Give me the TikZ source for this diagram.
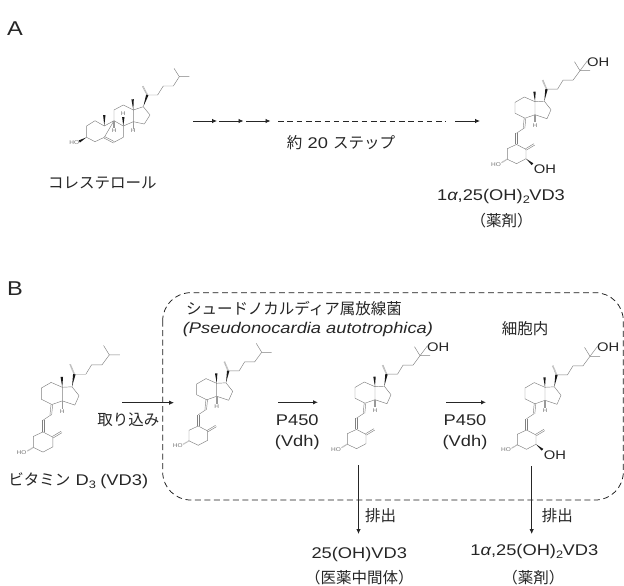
\documentclass[tikz,border=0pt]{standalone}
\usepackage{fontspec}
\usepackage{tikz}
\setmainfont[FakeStretch=1.18]{Liberation Sans}
\newfontfamily\jp{Noto Sans CJK JP}
\usetikzlibrary{arrows.meta, calc}

\newcommand{\jpn}[1]{{\jp #1}}
\newcommand{\doublebond}[2]{\draw[bond] ($(#1)!.8pt!90:(#2)$) -- ($(#2)!.8pt!-90:(#1)$); \draw[bond] ($(#1)!.8pt!-90:(#2)$) -- ($(#2)!.8pt!90:(#1)$);}
\newcommand{\wedgebond}[2]{\fill[black!90] (#1) -- ($(#2)!1.2pt!90:(#1)$) -- ($(#2)!1.2pt!-90:(#1)$) -- cycle;}

\tikzset{
  bond/.style={black!50, line width=.45pt, line join=round},
  hashbond/.style={black!40, line width=1.6pt, dash pattern=on .35pt off .6pt},
  atomsmall/.style={font=\fontsize{5.5}{6}\selectfont, black!55, inner sep=0pt},
  atombig/.style={font=\fontsize{12.5}{14}\selectfont, black!85, inner sep=0pt},
  lbl/.style={font=\fontsize{15.5}{18}\selectfont, black!85, inner sep=0pt},
  head/.style={font=\fontsize{20}{22}\selectfont, black!85, inner sep=0pt},
  flow/.style={-{Latex[length=5pt,width=4.5pt]}, black!85, line width=.8pt},
  flowthick/.style={-{Latex[length=5pt,width=4.5pt]}, black!85, line width=1.2pt},
  cellbox/.style={black!90, line width=.75pt, dash pattern=on 5.8pt off 3.7pt, rounded corners=28pt},
  seco/.pic={
    \draw[bond] (45,-31) -- (39.5,-40) (45,-31) -- (55,-31);
    \draw[bond] (45,-31) -- (38,-21.5) -- (28,-21.5) -- (22.5,-12.5) -- (11.5,-12.5);
    \draw[hashbond] (11.5,-12.5) -- (7.5,-22);
    \wedgebond{9.3,-.5}{11.5,-12.5}
    \draw[bond] (9.3,-.5) -- (16,8) -- (12,17) -- (0,13) -- (0,0) -- (-10.7,-4.7) -- (-20,.7) -- (-20,11.5) -- (-10,16.5) -- (0,13);
    \draw[bond] (0,0) -- (9.3,-.5);
    \wedgebond{0,0}{-.5,-10}
    \draw[hashbond] (0,13) -- (0,20);
    \node[atomsmall] (h) at (0,23.5) {H};
    \doublebond{-10,16.5}{-11,26.5}
    \draw[bond] (-11,26.5) -- (-18.5,31.5);
    \doublebond{-18.5,31.5}{-18.5,42.7}
    \draw[bond] (-18.5,42.7) -- (-9,47.7) -- (-9,57) -- (-18.5,62) -- (-27.7,57.5) -- (-27.7,47) -- cycle;
    \doublebond{-9,47.7}{-.7,42.7}
    \draw[hashbond, line width=1.2pt] (-27.7,57.5) -- (-33.5,61);
    \node[atomsmall] (ho) at (-39,62.7) {HO};
  },
  hydroxyl/.pic={
    \draw[bond] (45,-31) -- (52.5,-41);
    \node[atombig] (oh) at (63.3,-39.7) {OH};
  },
  hydroxylring/.pic={
    \wedgebond{-9,57}{-2.5,62.5}
    \node[atombig] (oh) at (10,67.7) {OH};
  },
  cholest/.pic={
    \draw[bond] (46,-33.3) -- (40.7,-41.7) (46,-33.3) -- (56,-33.3);
    \draw[bond] (46,-33.3) -- (40,-24) -- (30,-24) -- (24.3,-15) -- (14,-15);
    \draw[hashbond] (14,-15) -- (9.3,-24);
    \wedgebond{10,-3.3}{14,-15}
    \draw[bond] (0,0) -- (10,-3.3) -- (16.7,5) -- (11,14) -- (0,11.7) -- cycle;
    \draw[bond] (0,0) -- (-10,-5) -- (-19.3,0) -- (-19.3,10.7) -- (-10,16) -- (0,11.7);
    \draw[bond] (-19.3,10.7) -- (-29,16) -- (-38.3,10.7) -- (-46.7,16) -- (-46.7,27.3) -- (-38.3,31.7) -- (-29,27.3) -- cycle;
    \draw[bond] (-10,16) -- (-10,27.3) -- (-19.3,32.3);
    \doublebond{-19.3,32.3}{-29,27.3}
    \wedgebond{0,0}{-.7,-10.7}
    \wedgebond{-29,16}{-29,5}
    \wedgebond{-46.7,27.3}{-54,31.5}
    \draw[hashbond] (-19.3,10.7) -- (-19.3,17.5);
    \draw[hashbond] (0,11.7) -- (0,18.5);
    \wedgebond{-10,16}{-10,7}
    \node[atomsmall] (ha) at (-19,21) {H};
    \node[atomsmall] (hb) at (-10,4) {H};
    \node[atomsmall] (hc) at (0,21) {H};
    \node[atomsmall] (ho) at (-59,32.3) {HO};
  }
}

\begin{document}
\begin{tikzpicture}[x=1pt, y=-1pt]
  \useasboundingbox (0,0) rectangle (624,586);

  \node[head] (panela) at (15,29) {A};
  \pic (chol) at (133.3,110) {cholest};
  \pic (topmol) at (535,101.7) {seco};
  \pic (topoh) at (535,101.7) {hydroxyl};
  \pic (topring) at (535,101.7) {hydroxylring};

  \coordinate (s0) at (193,121);
  \coordinate (s1) at (217,121);
  \coordinate (s2) at (219,121);
  \coordinate (s3) at (243.5,121);
  \coordinate (s4) at (246,121);
  \coordinate (s5) at (270.5,121);
  \coordinate (s6) at (278,121);
  \coordinate (s7) at (446,121);
  \coordinate (s8) at (455,121);
  \coordinate (s9) at (480,121);
  \draw[flow] (s0) -- (s1);
  \draw[flow] (s2) -- (s3);
  \draw[flow] (s4) -- (s5);
  \draw[black!85, line width=.8pt, dash pattern=on 5.6pt off 3.7pt] (s6) -- (s7);
  \draw[flow] (s8) -- (s9);

  \node[lbl] (steps) at (341,143) {\jpn{約} 20 \jpn{ステップ}};
  \node[lbl] (cholname) at (102.3,183) {\jpn{コレステロール}};
  \node[lbl] (drugtop) at (501,196.7) {1\textit{α},25(OH)$_{\mathrm{2}}$VD3};
  \node[lbl] (drugtopb) at (501.7,221) {\jpn{（薬剤）}};

  \node[head] (panelb) at (15,289) {B};
  \draw[cellbox] (162.7,292.7) rectangle (623.3,500);

  \pic[scale=1.045] (vdmol) at (62.3,387.3) {seco};
  \pic (mola) at (216.7,383.3) {seco};
  \pic (molb) at (375,386.7) {seco};
  \pic (molboh) at (375,386.7) {hydroxyl};
  \pic (molc) at (545,387.3) {seco};
  \pic (molcoh) at (545,387.3) {hydroxyl};
  \pic (molcring) at (545,387.3) {hydroxylring};

  \coordinate (in0) at (122,402.7);
  \coordinate (in1) at (174,402.7);
  \draw[flow] (in0) -- (in1);
  \coordinate (pa0) at (278,402.3);
  \coordinate (pa1) at (318,402.3);
  \draw[flowthick] (pa0) -- (pa1);
  \coordinate (pb0) at (446,402.3);
  \coordinate (pb1) at (486,402.3);
  \draw[flowthick] (pb0) -- (pb1);
  \coordinate (oa0) at (358.5,465);
  \coordinate (oa1) at (358.5,534);
  \draw[flow] (oa0) -- (oa1);
  \coordinate (ob0) at (531.7,466);
  \coordinate (ob1) at (531.7,534);
  \draw[flow] (ob0) -- (ob1);

  \node[lbl] (vdname) at (78.3,480.7) {\jpn{ビタミン} D$_{\mathrm{3}}$ (VD3)};
  \node[lbl] (uptake) at (128.3,420) {\jpn{取り込み}};
  \node[lbl, anchor=west] (strain) at (186,308.3) {\jpn{シュードノカルディア属放線菌}};
  \node[lbl, anchor=west] (strainb) at (182.7,329.3) {\textit{(Pseudonocardia autotrophica)}};
  \node[lbl] (inside) at (525,328.3) {\jpn{細胞内}};
  \node[lbl] (pfa) at (297.3,420) {P450};
  \node[lbl] (vdha) at (297.3,442.7) {(Vdh)};
  \node[lbl] (pfb) at (465,420) {P450};
  \node[lbl] (vdhb) at (465,442.7) {(Vdh)};
  \node[lbl] (outa) at (380.7,516) {\jpn{排出}};
  \node[lbl] (outb) at (557.3,516) {\jpn{排出}};
  \node[lbl] (proda) at (359.3,554) {25(OH)VD3};
  \node[lbl] (prodab) at (359.3,577.3) {\jpn{（医薬中間体）}};
  \node[lbl] (prodb) at (534.3,551.7) {1\textit{α},25(OH)$_{\mathrm{2}}$VD3};
  \node[lbl] (prodbb) at (533.3,577.3) {\jpn{（薬剤）}};
\end{tikzpicture}
\end{document}
